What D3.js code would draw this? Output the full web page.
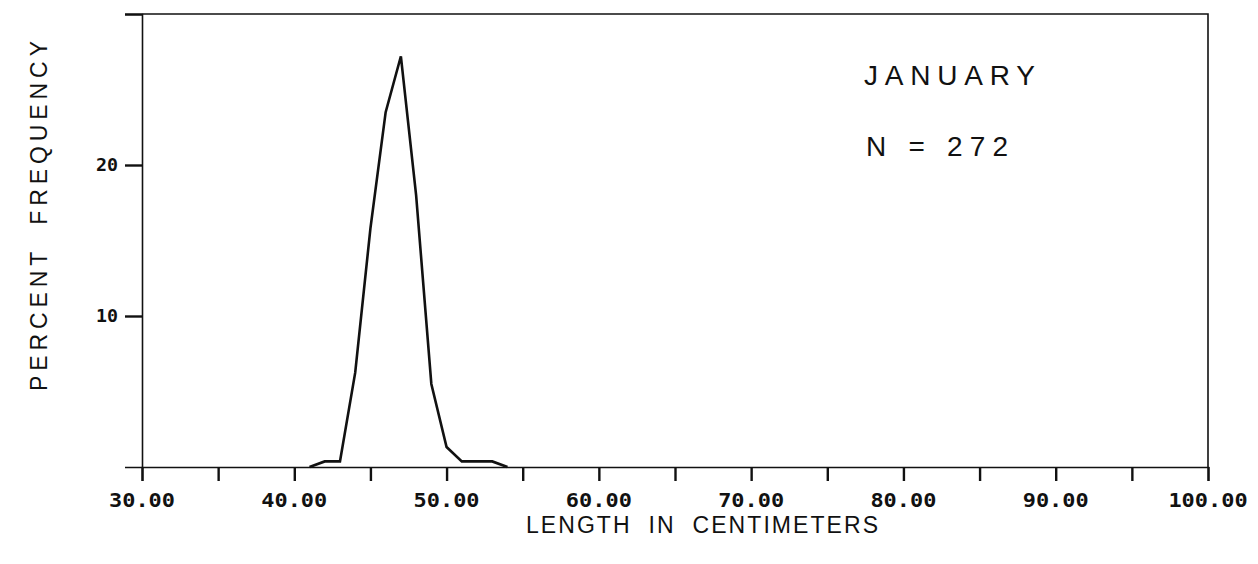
<!DOCTYPE html>
<html>
<head>
<meta charset="utf-8">
<script src="https://cdn.jsdelivr.net/npm/d3@7"></script>
<style>
  html, body { margin: 0; padding: 0; background: #fff; }
  svg { display: block; }
  .tick-label { font-family: "DejaVu Sans Mono", monospace; font-weight: bold; fill: #111; }
  .title { font-family: "Liberation Sans", Arial, sans-serif; fill: #111; }
</style>
</head>
<body>
<svg id="chart" width="1258" height="564"></svg>
<script>
// Length-frequency distribution, January sample
const lengthsCm = [41, 42, 43, 44, 45, 46, 47, 48, 49, 50, 51, 52, 53, 54];
const percentFreq = [0, 0.37, 0.37, 6.25, 15.8, 23.5, 27.2, 18.0, 5.5, 1.32, 0.37, 0.37, 0.37, 0];

const xTicks = [30, 35, 40, 45, 50, 55, 60, 65, 70, 75, 80, 85, 90, 95, 100];
const xTickLabels = ["30.00", "40.00", "50.00", "60.00", "70.00", "80.00", "90.00", "100.00"];
const yTicks = [10, 20, 30];
const yTickLabels = ["10", "20"];

const monthLabel = "JANUARY";
const sampleLabel = "N = 272";
const xTitle = "LENGTH  IN  CENTIMETERS";
const yTitle = "PERCENT  FREQUENCY";

const svg = d3.select("#chart");
const plotLeft = 142, plotRight = 1208, plotTop = 14, plotBottom = 467;

const x = d3.scaleLinear().domain([30, 100]).range([plotLeft, plotRight]);
const y = d3.scaleLinear().domain([0, 30]).range([plotBottom, plotTop]);

const ink = "#111";

// frame: top and right edges
svg.append("path")
  .attr("d", `M${x(30)},${y(30)}H${x(100)}V${y(0)}`)
  .attr("fill", "none").attr("stroke", ink).attr("stroke-width", 1.6);

// x axis with ticks every 5 cm, labels every 10 cm
const xAxis = d3.axisBottom(x).tickValues(xTicks).tickSize(14).tickFormat(() => "");
const gx = svg.append("g").attr("transform", `translate(0,${plotBottom})`).call(xAxis);
gx.select(".domain").attr("stroke", ink).attr("stroke-width", 1.6);
gx.selectAll(".tick line").attr("stroke", ink).attr("stroke-width", 2.4);

const labelVals = xTickLabels.map(s => +s);
svg.append("g").selectAll("text")
  .data(labelVals)
  .join("text")
  .attr("class", "tick-label")
  .attr("x", d => x(d))
  .attr("y", 507)
  .attr("text-anchor", "middle")
  .attr("font-size", 19)
  .attr("textLength", (d, i) => xTickLabels[i].length * 13.2)
  .attr("lengthAdjust", "spacingAndGlyphs")
  .text((d, i) => xTickLabels[i]);

// y axis
const yAxis = d3.axisLeft(y).tickValues(yTicks).tickSize(17).tickFormat(() => "");
const gy = svg.append("g").attr("transform", `translate(${plotLeft},0)`).call(yAxis);
gy.select(".domain").attr("stroke", ink).attr("stroke-width", 1.6);
gy.selectAll(".tick line").attr("stroke", ink).attr("stroke-width", 2.4);

svg.append("g").selectAll("text")
  .data(yTickLabels)
  .join("text")
  .attr("class", "tick-label")
  .attr("x", 107)
  .attr("y", d => y(+d) + 6)
  .attr("text-anchor", "middle")
  .attr("font-size", 17)
  .attr("textLength", d => d.length * 11)
  .attr("lengthAdjust", "spacingAndGlyphs")
  .text(d => d);

// frequency polygon
const line = d3.line()
  .x((d, i) => x(lengthsCm[i]))
  .y(d => y(d));
svg.append("path")
  .datum(percentFreq)
  .attr("d", line)
  .attr("fill", "none")
  .attr("stroke", ink)
  .attr("stroke-width", 2.6)
  .attr("stroke-linejoin", "miter");

// annotations
svg.append("text").attr("class", "title")
  .attr("x", 864).attr("y", 85)
  .attr("font-size", 28)
  .attr("textLength", 171).attr("lengthAdjust", "spacing")
  .text(monthLabel);

svg.append("text").attr("class", "title")
  .attr("x", 866).attr("y", 156)
  .attr("font-size", 28)
  .attr("textLength", 142).attr("lengthAdjust", "spacing")
  .style("white-space", "pre")
  .text(sampleLabel);

// axis titles
svg.append("text").attr("class", "title")
  .attr("x", 526).attr("y", 533)
  .attr("font-size", 23)
  .attr("textLength", 352).attr("lengthAdjust", "spacing")
  .style("white-space", "pre")
  .text(xTitle);

svg.append("text").attr("class", "title")
  .attr("transform", "translate(47,391) rotate(-90)")
  .attr("font-size", 23)
  .attr("textLength", 350).attr("lengthAdjust", "spacing")
  .style("white-space", "pre")
  .text(yTitle);
</script>
</body>
</html>
